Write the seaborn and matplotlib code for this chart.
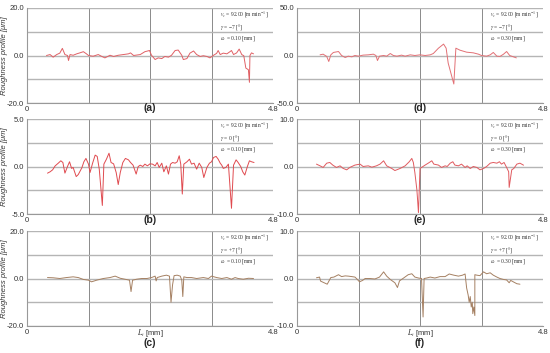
import numpy as np
import pandas as pd
import seaborn as sns
import matplotlib.pyplot as plt

# roughness profiles, x in mm, y in um
a_x = [0.38, 0.45, 0.51, 0.58, 0.64, 0.69, 0.74, 0.79, 0.81, 0.84, 0.90, 0.97, 1.03, 1.10, 1.16, 1.20,
       1.29, 1.39, 1.46, 1.52, 1.62, 1.69, 1.78, 1.88, 1.98, 2.02, 2.08, 2.21, 2.30, 2.39, 2.43, 2.50,
       2.56, 2.63, 2.69, 2.76, 2.82, 2.89, 2.95, 3.02, 3.05, 3.12, 3.18, 3.25, 3.31, 3.38, 3.44, 3.51,
       3.57, 3.64, 3.70, 3.73, 3.77, 3.83, 3.90, 3.96, 3.99, 4.03, 4.09, 4.14, 4.19, 4.23, 4.27, 4.32,
       4.34, 4.35, 4.38, 4.42]
a_y = [0.0, 0.4, -0.7, 0.4, 1.0, 3.0, 0.4, 0.0, -2.1, 0.4, 0.1, 0.7, 1.1, 1.6, 0.7, 0.0,
       -0.3, 0.4, -0.4, -1.0, 0.1, -0.4, 0.1, 0.4, 0.7, 1.1, 0.0, 0.4, 1.6, 2.1, 0.1, -1.7,
       -1.0, -1.3, -0.4, -0.7, 0.1, 2.1, 2.3, 0.1, -1.7, -1.3, 1.0, 1.9, 0.4, -0.4, -0.1, -0.4,
       -1.0, 0.1, 0.9, 2.1, 0.4, 1.0, 0.7, 1.6, 2.1, 0.4, 1.1, 2.7, 0.4, -0.1, -5.3, -6.0,
       -11.3, 0.0, 1.1, 0.7]

d_x = [0.45, 0.51, 0.58, 0.62, 0.66, 0.71, 0.81, 0.87, 0.94, 1.00, 1.07, 1.13, 1.20, 1.29, 1.39,
       1.49, 1.54, 1.57, 1.61, 1.69, 1.75, 1.82, 1.88, 1.95, 2.04, 2.11, 2.21, 2.30, 2.40, 2.50,
       2.60, 2.66, 2.76, 2.86, 2.91, 2.95, 3.02, 3.06, 3.10, 3.18, 3.31, 3.44, 3.54, 3.60, 3.70,
       3.77, 3.83, 3.90, 3.96, 4.03, 4.09, 4.15, 4.28]
d_y = [0.7, 1.4, -1.0, -6.3, 0.7, 3.2, 4.2, 0.0, -2.1, -0.7, -1.4, 0.0, -0.7, 0.4, 0.7,
       1.4, 0.0, -5.3, -0.7, 0.0, -0.7, 2.1, 0.0, -0.7, 0.4, -0.7, 0.7, 0.0, 0.7, 0.0,
       0.7, 2.1, 7.7, 12.0, 7.7, -8.0, -22.0, -30.0, 7.7, 5.6, 3.5, 2.8, 1.4, 0.0, -0.7,
       0.7, 3.2, -0.7, -1.0, 1.4, 4.2, 0.0, -2.5]

b_x = [0.40, 0.45, 0.50, 0.55, 0.61, 0.66, 0.70, 0.74, 0.79, 0.83,
       0.87, 0.90, 0.96, 1.00, 1.07, 1.11, 1.15, 1.20, 1.23, 1.28,
       1.33, 1.37, 1.41, 1.47, 1.50, 1.55, 1.60, 1.64, 1.69, 1.74,
       1.78, 1.82, 1.87, 1.92, 1.98, 2.02, 2.07, 2.13, 2.17, 2.21,
       2.26, 2.30, 2.35, 2.40, 2.45, 2.50, 2.54, 2.58, 2.63, 2.67,
       2.72, 2.76, 2.80, 2.84, 2.89, 2.93, 2.97, 3.00, 3.03, 3.06,
       3.12, 3.17, 3.21, 3.26, 3.31, 3.36, 3.41, 3.45, 3.51, 3.56,
       3.60, 3.64, 3.69, 3.73, 3.77, 3.80, 3.83, 3.88, 3.93, 3.99,
       4.03, 4.08, 4.12, 4.17, 4.21, 4.25, 4.30, 4.34, 4.38, 4.43]
b_y = [-0.7, -0.56, -0.35, 0.07, 0.35, 0.6, 0.42, -0.7, 0.0, 0.5,
       -0.2, -0.1, -1.06, -0.85, -0.14, 0.5, 0.85, 0.25, -0.63, 0.35,
       1.2, 1.06, -0.28, -4.1, 0.25, 0.77, 1.4, 0.42, 0.28, -0.63,
       -1.9, -0.63, 0.42, 0.85, 0.7, 0.42, 0.14, -0.8, 0.0, 0.14,
       0.0, 0.25, 0.07, 0.28, 0.25, 0.07, 0.42, -0.1, 0.35, -0.56,
       0.07, -0.8, 0.25, 0.42, 0.35, 0.49, 1.13, 0.25, -2.9, 0.25,
       0.49, 0.77, 0.25, 0.35, -0.28, 0.35, -0.1, -1.16, -0.1, 0.35,
       0.49, 0.95, 1.06, 0.77, 0.35, 0.14, -0.2, -0.1, 0.25, -4.4,
       0.14, 0.7, 0.42, 0.0, -0.56, -0.9, 0.0, 0.6, 0.5, 0.42]

e_x = [0.38, 0.45, 0.51, 0.58, 0.64, 0.70, 0.77, 0.84, 0.90, 0.97,
       1.03, 1.13, 1.23, 1.29, 1.39, 1.46, 1.55, 1.62, 1.69, 1.75,
       1.85, 1.91, 2.01, 2.11, 2.19, 2.24, 2.27, 2.30, 2.34, 2.37,
       2.40, 2.43, 2.50, 2.56, 2.63, 2.67, 2.76, 2.82, 2.89, 2.93,
       2.99, 3.04, 3.08, 3.15, 3.21, 3.28, 3.32, 3.38, 3.44, 3.51,
       3.57, 3.64, 3.70, 3.77, 3.83, 3.90, 3.95, 3.99, 4.04, 4.09,
       4.13, 4.14, 4.19, 4.23, 4.29, 4.35, 4.42]
e_y = [0.5, 0.14, -0.2, 0.7, 0.85, 0.28, -0.2, 0.14, -0.4, -0.7,
       -0.2, 0.3, 0.5, 0.0, 0.14, -0.14, 0.14, 0.5, 1.2, 0.14,
       -0.42, -0.85, -0.42, 0.14, 1.0, 1.7, 0.85, -1.3, -5.0, -9.7,
       -0.4, -0.2, 0.3, 0.7, 1.2, 0.5, 0.3, -0.2, 0.14, 0.0,
       0.7, 1.0, 0.3, 0.14, 0.5, -0.2, 0.14, -0.42, 0.0, -0.2,
       -0.7, -0.42, 0.0, 0.7, 0.85, 0.7, 1.0, 0.5, 0.85, -0.2,
       -1.1, -4.4, -0.7, -0.42, 0.5, 0.7, 0.28]

c_x = [0.40, 0.51, 0.64, 0.77, 0.90, 1.00, 1.10, 1.20, 1.26, 1.36,
       1.49, 1.62, 1.72, 1.82, 1.91, 2.00, 2.03, 2.06, 2.14, 2.24,
       2.34, 2.43, 2.50, 2.52, 2.54, 2.63, 2.72, 2.78, 2.81, 2.84,
       2.87, 2.93, 2.99, 3.02, 3.04, 3.06, 3.12, 3.21, 3.31, 3.44,
       3.54, 3.60, 3.70, 3.80, 3.90, 3.99, 4.06, 4.12, 4.22, 4.32,
       4.42]
c_y = [0.4, 0.3, 0.0, 0.4, 0.7, 0.4, -0.4, -0.7, -1.4, -0.7,
       0.0, 0.4, 1.0, 0.1, -0.3, -0.7, -5.5, -0.7, -0.3, 0.0,
       0.0, 0.4, 1.0, -1.0, 0.4, 1.0, 1.4, 1.0, -10.0, -2.7,
       1.2, 1.4, 1.0, -0.7, -7.6, 0.7, 0.4, 0.4, 0.0, 0.4,
       0.0, 1.0, 0.4, 0.0, 0.4, -0.3, 0.4, 0.0, -0.3, 0.1,
       0.0]

f_x = [0.38, 0.44, 0.46, 0.53, 0.59, 0.66, 0.72, 0.81, 0.87, 0.94,
       1.00, 1.07, 1.13, 1.16, 1.22, 1.28, 1.33, 1.42, 1.52, 1.61,
       1.69, 1.75, 1.82, 1.91, 1.96, 2.00, 2.08, 2.17, 2.24, 2.30,
       2.37, 2.43, 2.46, 2.48, 2.53, 2.60, 2.69, 2.79, 2.89, 2.97,
       3.06, 3.15, 3.23, 3.28, 3.31, 3.34, 3.36, 3.38, 3.40, 3.42,
       3.43, 3.45, 3.47, 3.47, 3.51, 3.57, 3.64, 3.70, 3.77, 3.83,
       3.90, 3.96, 4.03, 4.09, 4.14, 4.17, 4.22, 4.29, 4.35]
f_y = [0.15, 0.3, -0.55, -0.9, -1.2, 0.2, 0.3, 0.8, 0.4, 0.55,
       0.5, 0.4, 0.3, 0.0, -0.7, -0.4, 0.0, 0.0, -0.1, 0.3,
       1.4, 0.5, -0.2, -0.9, -1.9, -0.5, 0.1, 0.8, 1.0, 0.3,
       0.1, 0.0, -8.1, 0.0, 0.1, 0.3, 0.1, 0.4, 0.4, 0.95,
       0.7, 0.5, 0.7, 0.95, -2.0, -3.5, -5.0, -3.8, -6.0, -5.0,
       -7.4, -6.0, -7.8, 0.8, 0.7, 0.6, 1.4, 1.0, 1.2, 0.7,
       0.3, 0.0, -0.2, -0.3, -0.9, -0.4, -0.7, -1.1, -1.2]

panels = [
    # name, x, y, y limit, color, rake angle, feed, column, row
    ('(a)', a_x, a_y, 20, '#e06065', '\u22127', '0.10', 0, 0),
    ('(b)', b_x, b_y, 5, '#e04a4f', '0', '0.10', 0, 1),
    ('(c)', c_x, c_y, 20, '#a58062', '+7', '0.10', 0, 2),
    ('(d)', d_x, d_y, 50, '#e27075', '\u22127', '0.30', 1, 0),
    ('(e)', e_x, e_y, 10, '#e05a5f', '0', '0.30', 1, 1),
    ('(f)', f_x, f_y, 10, '#a58062', '+7', '0.30', 1, 2),
]

sns.set_style('white')
plt.rcParams['font.family'] = ['Liberation Sans', 'DejaVu Sans']
plt.rcParams['mathtext.fontset'] = 'stix'

fig = plt.figure(figsize=(5.5, 3.53), dpi=100)
lefts = [27 / 550, 297 / 550]
bottoms = [1 - 103 / 353, 1 - 214 / 353, 1 - 326 / 353]
w, h = 246 / 550, 95 / 353

for name, xs, ys, lim, col, gam, feed, ci, ri in panels:
    ax = fig.add_axes([lefts[ci], bottoms[ri], w, h])
    df = pd.DataFrame({'x': xs, 'y': ys})
    sns.lineplot(data=df, x='x', y='y', ax=ax, color=col, lw=0.7,
                 estimator=None, sort=False)
    ax.set_xlim(0, 4.8)
    ax.set_ylim(-lim, lim)
    ax.set_xticks([0, 1.2, 2.4, 3.6, 4.8])
    ax.set_xticklabels(['0', '', '', '', '4.8'])
    ax.set_yticks([-lim, -lim / 2, 0, lim / 2, lim])
    ax.set_yticklabels([f'-{lim:.1f}', '', '0.0', '', f'{lim:.1f}'])
    ax.tick_params(length=0, labelsize=5.5, pad=2, labelcolor='#333333')
    ax.xaxis.grid(True, color='#8a8a8a', lw=0.7)
    ax.yaxis.grid(True, color='#b5b5b5', lw=1.0)
    ax.set_axisbelow(True)
    for s in ['top', 'right']:
        ax.spines[s].set_visible(False)
    for s in ['left', 'bottom']:
        ax.spines[s].set_color('#999999')
        ax.spines[s].set_linewidth(0.8)
    ax.set_xlabel('')
    if ci == 0:
        ax.set_ylabel('Roughness profile [\u03bcm]', fontsize=5.5, style='italic',
                      color='#333333')
        ax.yaxis.set_label_coords(-0.078, 0.5)
    else:
        ax.set_ylabel('')

    txt = ('$v_c$ = 92.00 [m min$^{-1}$]\n'
           f'$\\gamma$ = {gam} [\u00b0]\n'
           f'$a_c$ = {feed} [mm]')
    ax.text(3.77, 0.98 * lim, txt, fontsize=4, family='Liberation Serif',
            va='top', ha='left', linespacing=1.35, color='#333333')

    if ri == 2:
        ax.text(0.5, -7 / 94, '$L_t$ [mm]', transform=ax.transAxes, fontsize=5.5,
                ha='center', va='center', color='#333333')
        ax.text(0.5, -17 / 94, name, transform=ax.transAxes, fontsize=7.5,
                fontweight='bold', ha='center', va='center')
    else:
        ax.text(0.5, -5.5 / 95, name, transform=ax.transAxes, fontsize=7.5,
                fontweight='bold', ha='center', va='center')

fig.savefig('out.png', dpi=100)
